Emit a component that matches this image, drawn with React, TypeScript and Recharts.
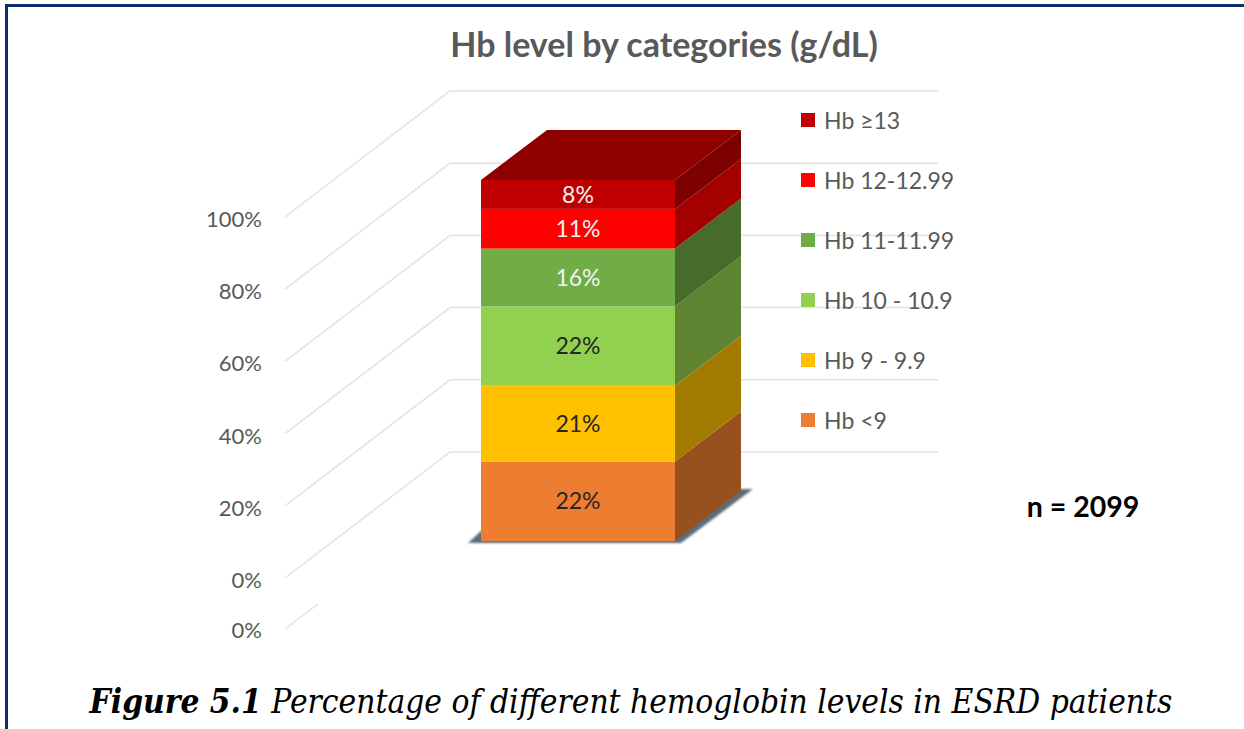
import { BarChart, Bar, XAxis, YAxis, Legend, LabelList, CartesianGrid } from 'recharts'

const categories = ['Hb level']
const seriesNames = ['Hb <9', 'Hb 9 - 9.9', 'Hb 10 - 10.9', 'Hb 11-11.99', 'Hb 12-12.99', 'Hb ≥13']
const seriesValues = [22, 21, 22, 16, 11, 8]
const tickValues = [0, 20, 40, 60, 80, 100]

const frontColors = ['#ed7d31', '#ffc000', '#92d050', '#70ad47', '#ff0000', '#c00000']
const sideColors = ['#99501f', '#a37b00', '#5e8432', '#466b2b', '#a50000', '#7c0000']
const labelColors = ['#262626', '#262626', '#262626', '#f2f2f2', '#f2f2f2', '#f2f2f2']
const topColor = '#900000'
const gridColor = '#e2e2e2'
const axisText = '#595959'
const uiFont = 'Lato, sans-serif'

const rows = categories.map((name) => {
  const row: Record<string, string | number> = { name }
  seriesNames.forEach((s, i) => { row[s] = seriesValues[i] })
  return row
})

// depth of the fake 3d box
const DX = 66
const DY = 50

const pts = (list: number[][]) => list.map((p) => p.join(',')).join(' ')

function Box(props: any) {
  const { x, y, width: w, height: h, index } = props
  const b = y + h
  return (
    <g>
      {index === 0 && (
        <polygon
          points={pts([[x - 13, b + 2], [x + w + 6, b + 2], [x + w + 78, b - 52], [x + w + 66, b - 52], [x, b - 10]])}
          fill="#5d6b78"
          style={{ filter: 'blur(1px)' }}
        />
      )}
      <polygon points={pts([[x + w, y], [x + w + DX, y - DY], [x + w + DX, b - DY], [x + w, b]])} fill={sideColors[index]} />
      <rect x={x} y={y} width={w} height={h} fill={frontColors[index]} />
      {index === seriesNames.length - 1 && (
        <polygon points={pts([[x, y], [x + DX, y - DY], [x + w + DX, y - DY], [x + w, y]])} fill={topColor} />
      )}
    </g>
  )
}

// gridlines run up the left wall and then along the back wall
function WallLine(props: any) {
  const y = props.y1
  const isZero = Math.abs(y - 541) < 2
  return (
    <g key={y}>
      <polyline points={pts([[285, y + 37], [450, y - 89], [938, y - 89]])} fill="none" stroke={gridColor} strokeWidth={1.5} />
      {isZero && <line x1={285} y1={y + 88} x2={318} y2={y + 63} stroke={gridColor} strokeWidth={1.5} />}
    </g>
  )
}

function WallTick(props: any) {
  const { y, payload } = props
  return (
    <g>
      <text x={262} y={y + 47} textAnchor="end" fontSize={22} fontFamily={uiFont} fill={axisText}>{payload.value}%</text>
      {payload.value === 0 && <text x={262} y={y + 97} textAnchor="end" fontSize={22} fontFamily={uiFont} fill={axisText}>0%</text>}
    </g>
  )
}

function LegendList({ payload }: any) {
  const items = [...(payload ?? [])].sort((a: any, b: any) => seriesNames.indexOf(b.value) - seriesNames.indexOf(a.value))
  return (
    <div style={{ width: 170 }}>
      {items.map((item: any) => (
        <div key={item.value} style={{ height: 60, display: 'flex', alignItems: 'center', fontFamily: uiFont, fontSize: 23, color: axisText }}>
          <span style={{ width: 14, height: 14, background: item.color, marginRight: 9, flexShrink: 0 }} />
          {item.value}
        </div>
      ))}
    </div>
  )
}

export default function App() {
  return (
    <div style={{ position: 'absolute', left: 0, top: 0, width: 1244, height: 729, background: '#fff', overflow: 'hidden' }}>
      <div style={{ position: 'absolute', left: 5, top: 4, right: 0, bottom: 0, borderLeft: '3px solid #0b2a6f', borderTop: '3px solid #0b2a6f' }} />
      <BarChart
        width={1244}
        height={729}
        data={rows}
        barCategoryGap={0}
        margin={{ top: 180, bottom: 188, left: 0, right: 399 }}
        style={{ position: 'absolute', left: 0, top: 0 }}
      >
        <CartesianGrid vertical={false} horizontal={WallLine} />
        <XAxis dataKey="name" hide />
        <YAxis width={481} domain={[0, 100]} ticks={tickValues} axisLine={false} tickLine={false} tick={<WallTick />} />
        <Legend
          layout="vertical"
          align="right"
          verticalAlign="top"
          width={170}
          content={<LegendList />}
          wrapperStyle={{ left: 801, top: 90, width: 170 }}
        />
        {seriesNames.map((s, i) => (
          <Bar key={s} dataKey={s} name={s} stackId="a" fill={frontColors[i]} shape={(p: any) => <Box {...p} index={i} />} isAnimationActive={false}>
            <LabelList dataKey={s} position="center" formatter={(v: any) => `${v}%`} fill={labelColors[i]} fontSize={23} fontFamily={uiFont} />
          </Bar>
        ))}
        <text x={664} y={57} textAnchor="middle" fontSize={34} fontWeight={700} fontFamily={uiFont} fill={axisText}>Hb level by categories (g/dL)</text>
        <text x={1083} y={517} textAnchor="middle" fontSize={28.5} fontWeight={700} fontFamily={uiFont} fill="#000">n = 2099</text>
        <text x={631} y={713} textAnchor="middle" fontSize={33.2} fontFamily='"DejaVu Serif Condensed", "DejaVu Serif", serif' fontStyle="italic" fill="#000">
          <tspan fontWeight={700}>Figure 5.1</tspan> Percentage of different hemoglobin levels in ESRD patients
        </text>
      </BarChart>
    </div>
  )
}
